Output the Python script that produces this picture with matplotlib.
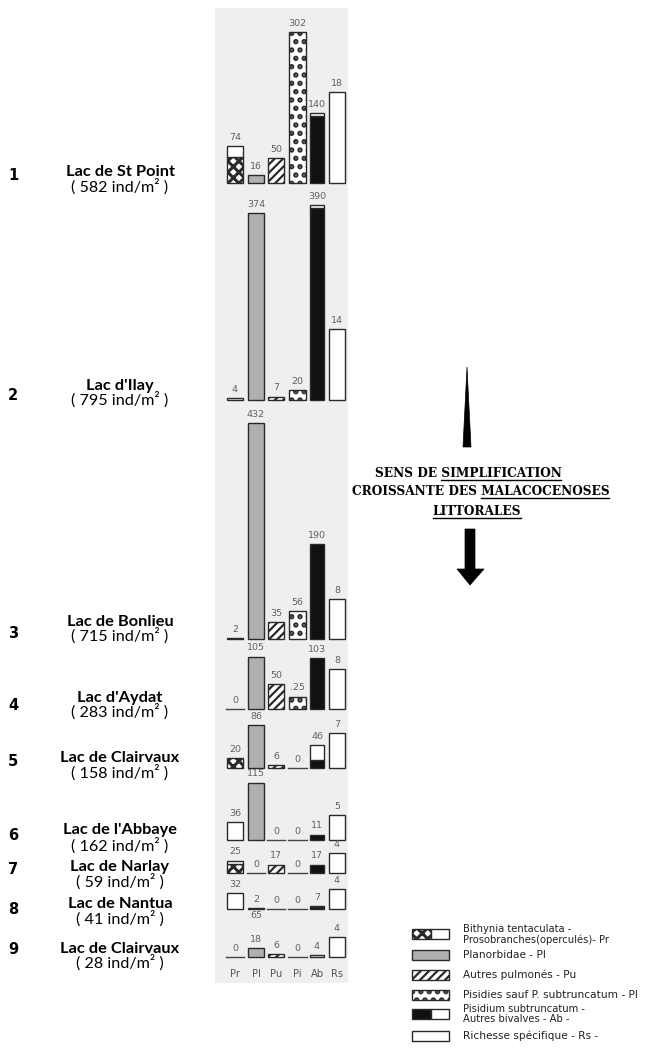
import matplotlib
matplotlib.use('Agg')
import matplotlib.pyplot as plt
from matplotlib.patches import Rectangle, Polygon

# ---------------- data ----------------
lakes = ["Lac de St Point", "Lac d'Ilay", "Lac de Bonlieu", "Lac d'Aydat",
         "Lac de Clairvaux", "Lac de l'Abbaye", "Lac de Narlay",
         "Lac de Nantua", "Lac de Clairvaux"]
densities = [582, 795, 715, 283, 158, 162, 59, 41, 28]
ranks = ['1', '2', '3', '4', '5', '6', '7', '8', '9']
columns = ['Pr', 'Pl', 'Pu', 'Pi', 'Ab', 'Rs']

pr_total = [74, 4, 2, 0, 20, 36, 25, 32, 0]
pr_bithynia = [52, 0, 0, 0, 20, 0, 18, 0, 0]
pl = [16, 374, 432, 105, 86, 115, 0, 2, 18]
pu = [50, 7, 35, 50, 6, 0, 17, 0, 6]
pi = [302, 20, 56, 25, 0, 0, 0, 0, 0]
ab_total = [140, 390, 190, 103, 46, 11, 17, 7, 4]
ab_subtr = [134, 384, 190, 103, 16, 11, 17, 4, 0]
rs = [18, 14, 8, 8, 7, 5, 4, 4, 4]
label_override = {(3, 'Pi'): '.25'}
stray_note = '65'

legend_labels = [
    ["Bithynia tentaculata -", "Prosobranches(operculés)- Pr"],
    ["Planorbidae - Pl"],
    ["Autres pulmonés - Pu"],
    ["Pisidies sauf P. subtruncatum - Pl"],
    ["Pisidium subtruncatum -", "Autres bivalves - Ab -"],
    ["Richesse spécifique - Rs -"],
]

# ---------------- layout ----------------
W, H = 656, 1048
baselines = [183, 400, 639, 709, 768, 840, 873, 909, 957]
col_x = {'Pr': 235, 'Pl': 256, 'Pu': 276, 'Pi': 297.5, 'Ab': 317, 'Rs': 337}
col_w = {'Pr': 16, 'Pl': 16, 'Pu': 16, 'Pi': 17, 'Ab': 14, 'Rs': 16}
COUNT_PX = 0.5      # pixels per individual
RS_PX = 5.05        # pixels per species
EDGE = '#2a2a2a'
LABC = '#606060'

fig = plt.figure(figsize=(W / 100, H / 100), dpi=100)
fig.patch.set_facecolor('white')
ax = fig.add_axes([0, 0, 1, 1])
ax.set_xlim(0, W)
ax.set_ylim(H, 0)
ax.axis('off')

# grey panel behind the bars
ax.add_patch(Rectangle((215, 8), 133, 975, facecolor='#efefef', edgecolor='none', zorder=0))

styles = {
    'Pr': dict(facecolor='white', hatch='xxx', hlw=2.2),
    'Pl': dict(facecolor='#b0b0b0', hatch=None, hlw=1.0),
    'Pu': dict(facecolor='white', hatch='////', hlw=1.6),
    'Pi': dict(facecolor='white', hatch='..', hlw=2.6),
    'Ab': dict(facecolor='#111111', hatch=None, hlw=1.0),
    'Rs': dict(facecolor='white', hatch=None, hlw=1.0),
}


def draw_bar(col, base, value_px, bottom_px=0.0, style=None):
    st = style if style is not None else styles[col]
    plt.rcParams['hatch.linewidth'] = st['hlw']
    ax.bar(col_x[col], -value_px, width=col_w[col], bottom=base - bottom_px,
           facecolor=st['facecolor'], edgecolor=EDGE, linewidth=1.0,
           hatch=st['hatch'], zorder=2)


white_style = dict(facecolor='white', hatch=None, hlw=1.0)

for i, base in enumerate(baselines):
    vals = {'Pr': pr_total[i], 'Pl': pl[i], 'Pu': pu[i], 'Pi': pi[i],
            'Ab': ab_total[i], 'Rs': rs[i]}
    for col in columns:
        v = vals[col]
        scale = RS_PX if col == 'Rs' else COUNT_PX
        h = v * scale
        x = col_x[col]
        w = col_w[col]
        if v == 0:
            ax.plot([x - w / 2 - 1, x + w / 2 + 1], [base, base], color='#444444', lw=1.0, zorder=2)
        elif col == 'Pr':
            hb = pr_bithynia[i] * COUNT_PX
            if hb > 0:
                draw_bar('Pr', base, hb)
            if h - hb > 0:
                draw_bar('Pr', base, h - hb, bottom_px=hb, style=white_style)
        elif col == 'Ab':
            hs = ab_subtr[i] * COUNT_PX
            if hs > 0:
                draw_bar('Ab', base, hs)
            if h - hs > 0:
                draw_bar('Ab', base, h - hs, bottom_px=hs, style=white_style)
        else:
            draw_bar(col, base, h)
        txt = label_override.get((i, col), str(v))
        ax.text(x, base - h - 4, txt, ha='center', va='bottom', fontsize=6.8,
                color=LABC, family='DejaVu Sans', zorder=3)

# stray "65" printed beneath Lac de Nantua's Pl value
ax.text(col_x['Pl'], 915, stray_note, ha='center', va='center', fontsize=6.8,
        color=LABC, family='DejaVu Sans')

# column labels
for col in columns:
    ax.text(col_x[col], 974, col, ha='center', va='center', fontsize=7.2,
            color='#555555', family='DejaVu Sans')

renderer = fig.canvas.get_renderer()


def text_width(s, **kw):
    t = ax.text(0, 0, s, **kw)
    w = t.get_window_extent(renderer).width
    t.remove()
    return w


def fit_size(s, target, base_size=10, **kw):
    w = text_width(s, fontsize=base_size, **kw)
    return base_size * target / w


# lake labels
name_kw = dict(family='Lato', fontweight='bold')
dens_kw = dict(family='Lato')
name_size = fit_size("Lac de St Point", 109, **name_kw)
dens_size = fit_size("( 582 ind/m² )", 97, **dens_kw)
name_y = [172, 386, 622, 698, 758, 830, 867, 904, 949]
dens_off = [15, 14, 14, 14, 15, 16, 15, 15, 14]
rank_y = [175, 395, 634, 705, 761, 836, 870, 910, 950]
for i, nm in enumerate(lakes):
    ax.text(120, name_y[i], nm, ha='center', va='center', fontsize=name_size,
            color='black', **name_kw)
    ax.text(120, name_y[i] + dens_off[i], f"( {densities[i]} ind/m² )", ha='center',
            va='center', fontsize=dens_size, color='black', **dens_kw)
    ax.text(13, rank_y[i], ranks[i], ha='center', va='center', fontsize=10.5,
            fontweight='bold', family='DejaVu Sans Condensed', color='black')

# arrow text with underlines
arr_kw = dict(family='DejaVu Serif', fontweight='bold')
arr_size = fit_size("CROISSANTE DES MALACOCENOSES", 257, **arr_kw)
lines = [
    (468, 477, "SENS DE ", "SIMPLIFICATION"),
    (480.5, 495, "CROISSANTE DES ", "MALACOCENOSES"),
    (477, 515, "", "LITTORALES"),
]
for cx, by, pre, word in lines:
    full = pre + word
    wfull = text_width(full, fontsize=arr_size, **arr_kw)
    wword = text_width(word, fontsize=arr_size, **arr_kw)
    ax.text(cx, by, full, ha='center', va='baseline', fontsize=arr_size, color='black', **arr_kw)
    x_end = cx + wfull / 2
    ax.plot([x_end - wword, x_end], [by + 3, by + 3], color='black', lw=1.0)

# thin wedge pointing up
ax.add_patch(Polygon([(467, 367), (463, 447), (471, 447)], closed=True,
                     facecolor='black', edgecolor='black', lw=0.5))
# thick arrow pointing down
ax.add_patch(Polygon([(465, 529), (475, 529), (475, 569), (484, 569), (470, 585),
                      (457, 569), (465, 569)], closed=True,
                     facecolor='black', edgecolor='black', lw=0.5))

# legend
leg_y = [934, 955, 975, 995, 1014, 1036]
bx0, bw, bh = 412, 37, 10
leg_kw = dict(family='DejaVu Sans Condensed')
leg_size = min(7.6, fit_size("Pisidies sauf P. subtruncatum - Pl", 188, **leg_kw))
for k, col in enumerate(columns):
    yc = leg_y[k]
    st = styles[col]
    plt.rcParams['hatch.linewidth'] = st['hlw']
    if col in ('Pr', 'Ab'):
        ax.add_patch(Rectangle((bx0, yc - bh / 2), bw / 2, bh, facecolor=st['facecolor'],
                               hatch=st['hatch'], edgecolor=EDGE, lw=1.0))
        ax.add_patch(Rectangle((bx0 + bw / 2, yc - bh / 2), bw / 2, bh, facecolor='white',
                               edgecolor=EDGE, lw=1.0))
    else:
        ax.add_patch(Rectangle((bx0, yc - bh / 2), bw, bh, facecolor=st['facecolor'],
                               hatch=st['hatch'], edgecolor=EDGE, lw=1.0))
    lab = legend_labels[k]
    if len(lab) == 1:
        ax.text(463, yc, lab[0], ha='left', va='center', fontsize=leg_size, color='#222222', **leg_kw)
    else:
        ax.text(463, yc - 5.5, lab[0], ha='left', va='center', fontsize=leg_size * 0.95, color='#222222', **leg_kw)
        ax.text(463, yc + 5.5, lab[1], ha='left', va='center', fontsize=leg_size * 0.95, color='#222222', **leg_kw)

fig.savefig('out.png', dpi=100, facecolor='white')
